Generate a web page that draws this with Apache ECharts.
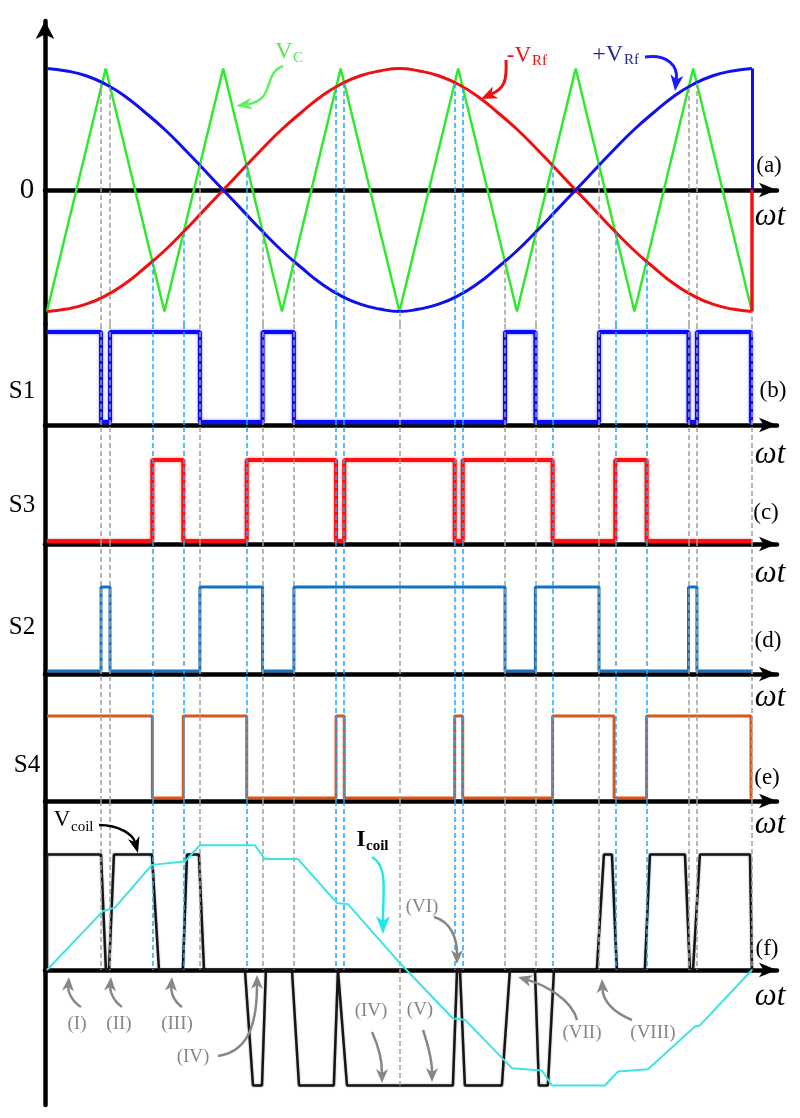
<!DOCTYPE html>
<html>
<head>
<meta charset="utf-8">
<script src="https://cdn.jsdelivr.net/npm/echarts/dist/echarts.min.js"></script>
<style>html,body{margin:0;padding:0;background:#fff;}#chart{width:800px;height:1118px;}</style>
</head>
<body>
<div id="chart"></div>
<script>
// ================= DATA =================
// reference waves, angle in degrees over one period
const refAngle = [0,10,20,30,40,50,60,70,80,90,100,110,120,130,140,150,160,170,180,190,200,210,220,230,240,250,260,270,280,290,300,310,320,330,340,350,360];
const posRef = [1.00,0.98,0.94,0.87,0.77,0.64,0.50,0.34,0.17,0.00,-0.17,-0.34,-0.50,-0.64,-0.77,-0.87,-0.94,-0.98,-1.00,-0.98,-0.94,-0.87,-0.77,-0.64,-0.50,-0.34,-0.17,0.00,0.17,0.34,0.50,0.64,0.77,0.87,0.94,0.98,1.00];
const negRef = [-1.00,-0.98,-0.94,-0.87,-0.77,-0.64,-0.50,-0.34,-0.17,0.00,0.17,0.34,0.50,0.64,0.77,0.87,0.94,0.98,1.00,0.98,0.94,0.87,0.77,0.64,0.50,0.34,0.17,0.00,-0.17,-0.34,-0.50,-0.64,-0.77,-0.87,-0.94,-0.98,-1.00];
// triangular carrier V_C
const carrierX = [0,30,60,90,120,150,180,210,240,270,300,330,360];
const carrierY = [-1,1,-1,1,-1,1,-1,1,-1,1,-1,1,-1];
// switching signals: initial level and edge angles
const s1Start = 1;
const s1Edges = [27.6,32.2,78.1,110.1,126.1,233.9,249.4,281.9,327.6,331.9,359.5];
const s3Start = 0;
const s3Edges = [53.8,69.6,102.0,147.6,151.8,208.2,212.3,258.2,290.2,306.2];
const s2Start = 0;
const s2Edges = [27.6,32.2,78.1,110.1,126.1,233.9,249.4,281.9,327.6,331.9];
const s4Start = 1;
const s4Edges = [53.8,69.6,102.0,147.6,151.8,208.2,212.3,258.2,289.6,306.2,359.5];
// vertical guide lines: angle, start level in (a), end level in (f)
const grayLines  = [27.6,32.2,78.1,110.1,126.1,180,233.9,249.4,281.9,327.6,331.9,360];
const grayTop    = [0.88,0.85,0.21,-0.34,-0.59,-1,-0.59,-0.35,0.21,0.84,0.88,1];
const grayBottom = [0,0,0,0,0,-1,0,0,0,0,0,0];
const blueLines  = [53.8,69.6,102.0,147.6,151.8,208.2,212.3,258.2,290.2,306.2];
const blueTop    = [-0.59,-0.35,0.21,0.84,0.88,0.88,0.84,0.21,-0.35,-0.59];
// coil voltage (normalised) and coil current
const vcoilX = [0,0,27.6,30.1,31.7,34.2,53.6,57.2,69.4,71.5,77.6,80.2,101.1,105.2,109.8,111.8,125.1,128.7,146.5,148.6,149.6,153.2,207.3,209.4,210.9,213.4,232.3,236.4,249.2,251.2,255.8,258.9,280.8,284.4,288.5,291.0,305.3,307.9,325.8,328.3,329.9,333.4,359.0,360];
const vcoilY = [0,1,1,0,0,1,1,0,0,1,1,0,0,-1,-1,0,0,-1,-1,0,0,-1,-1,0,0,-1,-1,0,0,-1,-1,0,0,1,1,0,0,1,1,0,0,1,1,0];
const icoilX = [0,28.6,34.7,53.6,70.5,78.1,106.2,111.3,128.2,148.1,153.7,180.2,207.3,213.4,237.4,252.7,257.9,284.9,291.6,306.9,330.9,333.4,360];
const icoilY = [0,0.51,0.54,0.91,0.94,1.08,1.08,0.96,0.96,0.58,0.57,0.06,-0.42,-0.43,-0.85,-0.87,-1.0,-1.0,-0.88,-0.86,-0.49,-0.48,0];

// ================= LAYOUT =================
const PX_PER_DEG = 705/360;
const GRID_W = 732;
const X_MIN = -1, X_MAX = -1 + GRID_W/PX_PER_DEG;
const panels = [
  {top:21,  height:303, min:-1.103, max:1.391, onZero:true, arrowY:true},
  {top:324, height:101, min:-0.033, max:1.089},
  {top:425, height:119, min:-0.037, max:1.432},
  {top:544, height:130, min:-0.036, max:1.512},
  {top:674, height:127, min:-0.037, max:1.512},
  {top:801, height:304, min:-1.169, max:1.463, onZero:true}
];
const GRAY = '#9e9e9e', LBLUE = '#1ea6ff';
const FONT = 'Liberation Serif';

const zip = (a,b) => a.map((v,i)=>[v,b[i]]);
function stepPts(start, edges){
  let lv = start; const pts = [[0,lv]];
  edges.forEach(e=>{ pts.push([e,lv]); lv = 1-lv; pts.push([e,lv]); });
  pts.push([360,lv]);
  return pts;
}
const dashStyle = c => ({color:c, type:[5,3], width:1.5});
const fullLines = [
  ...grayLines.map(x=>({xAxis:x, lineStyle:dashStyle(GRAY)})),
  ...blueLines.map(x=>({xAxis:x, lineStyle:dashStyle(LBLUE)}))
];
function mlBase(data){ return {silent:true, symbol:['none','none'], label:{show:false}, emphasis:{disabled:true}, animation:false, data}; }
const topLines = [
  ...grayLines.map((x,i)=>[{coord:[x,grayTop[i]], lineStyle:dashStyle(GRAY)},{coord:[x,panels[0].min], lineStyle:dashStyle(GRAY)}]),
  ...blueLines.map((x,i)=>[{coord:[x,blueTop[i]], lineStyle:dashStyle(LBLUE)},{coord:[x,panels[0].min], lineStyle:dashStyle(LBLUE)}])
];
const botLines = [
  ...grayLines.map((x,i)=>[{coord:[x,panels[5].max], lineStyle:dashStyle(GRAY)},{coord:[x,grayBottom[i]], lineStyle:dashStyle(GRAY)}]),
  ...blueLines.map((x)=>[{coord:[x,panels[5].max], lineStyle:dashStyle(LBLUE)},{coord:[x,0], lineStyle:dashStyle(LBLUE)}])
];

const grids = panels.map(p=>({left:45, width:GRID_W, top:p.top, height:p.height, outerBoundsMode:'none'}));
const xAxes = panels.map((p,i)=>({
  gridIndex:i, type:'value', min:X_MIN, max:X_MAX,
  axisLine:{show:true, onZero:!!p.onZero, symbol:['none','arrow'], symbolSize:[11,18], lineStyle:{color:'#000', width:4.5}},
  axisTick:{show:false}, axisLabel:{show:false}, splitLine:{show:false}
}));
const yAxes = panels.map((p,i)=>({
  gridIndex:i, type:'value', min:p.min, max:p.max,
  axisLine:{show:true, onZero:false, symbol: p.arrowY?['none','arrow']:['none','none'], symbolSize:[14,18], lineStyle:{color:'#000', width:4.5}},
  axisTick:{show:false}, axisLabel:{show:false}, splitLine:{show:false}
}));

function line(gi, data, color, width, extra){
  return Object.assign({type:'line', xAxisIndex:gi, yAxisIndex:gi, data, showSymbol:false, symbol:'none', silent:true,
    lineStyle:{color, width}, itemStyle:{color}, animation:false}, extra||{});
}

const series = [
  line(0, zip(carrierX,carrierY), '#30e830', 2.5, {name:'V_C', markLine: mlBase(topLines), z:2}),
  line(0, zip(refAngle,negRef), '#f01010', 3, {name:'-V_Rf', smooth:true, z:3,
    markLine: mlBase([[{coord:[360,-1], lineStyle:{color:'#f01010',type:'solid',width:3.5}},{coord:[360,0], lineStyle:{color:'#f01010',type:'solid',width:3.5}}]])}),
  line(0, zip(refAngle,posRef), '#1010ee', 3, {name:'+V_Rf', smooth:true, z:4,
    markLine: mlBase([[{coord:[360,1], lineStyle:{color:'#1010ee',type:'solid',width:3}},{coord:[360,0], lineStyle:{color:'#1010ee',type:'solid',width:3}}]])}),
  line(1, stepPts(s1Start,s1Edges), '#0a0aff', 4, {name:'S1', markLine: mlBase(fullLines),
    lineStyle:{color:'#0a0aff', width:4, shadowBlur:3, shadowColor:'rgba(80,80,255,0.7)'}}),
  line(2, stepPts(s3Start,s3Edges), '#ff1010', 4, {name:'S3', markLine: mlBase(fullLines),
    lineStyle:{color:'#ff1010', width:4, shadowBlur:3, shadowColor:'rgba(255,90,90,0.7)'}}),
  line(3, stepPts(s2Start,s2Edges), '#1770c0', 3, {name:'S2', markLine: mlBase(fullLines)}),
  line(4, stepPts(s4Start,s4Edges), '#d9561c', 3, {name:'S4', markLine: mlBase(fullLines)}),
  line(5, zip(vcoilX,vcoilY), '#111', 2.5, {name:'V_coil', markLine: mlBase(botLines),
    lineStyle:{color:'#151515', width:2.5, shadowBlur:2, shadowColor:'rgba(0,0,0,0.4)'}}),
  line(5, zip(icoilX,icoilY), '#3fe3df', 2, {name:'I_coil', z:5})
];

// ================= ANNOTATIONS =================
function txt(x,y,s,size,color,o){
  o = o||{};
  return {type:'text', x, y, silent:true, z:100, style:{text:s, fontSize:size, fontFamily:FONT,
    fontStyle:o.italic?'italic':'normal', fontWeight:o.bold?'bold':'normal', fill:color,
    align:o.align||'center', verticalAlign:'middle', textAlign:o.align||'center', textVerticalAlign:'middle'}};
}
function arrow(p0,c1,c2,p1,color,w,L,W){
  const a = Math.atan2(p1[1]-c2[1], p1[0]-c2[0]);
  const ca = Math.cos(a), sa = Math.sin(a);
  const bx = p1[0]-L*ca, by = p1[1]-L*sa;
  const nx = p1[0]-0.72*L*ca, ny = p1[1]-0.72*L*sa;
  return [
    {type:'bezierCurve', silent:true, z:100, shape:{x1:p0[0],y1:p0[1],cpx1:c1[0],cpy1:c1[1],cpx2:c2[0],cpy2:c2[1],x2:nx,y2:ny}, style:{stroke:color, lineWidth:w, fill:'none'}},
    {type:'polygon', silent:true, z:100, shape:{points:[[p1[0],p1[1]],[bx-sa*W/2, by+ca*W/2],[nx,ny],[bx+sa*W/2, by-ca*W/2]]}, style:{fill:color}}
  ];
}
const GR = '#878787';
const graphics = [
  txt(27,190,'0',29,'#000'),
  txt(22,391,'S1',25,'#000'), txt(22,505,'S3',25,'#000'), txt(22,627,'S2',25,'#000'), txt(27,765,'S4',25,'#000'),
  txt(769,166,'(a)',23,'#000'), txt(773,391,'(b)',23,'#000'), txt(766,513,'(c)',23,'#000'),
  txt(768,641,'(d)',23,'#000'), txt(767,778,'(e)',23,'#000'), txt(767,949,'(f)',23,'#000'),
  ...[217,455,574,698,825,997].map(y=>txt(770,y,'ωt',31,'#000',{italic:true})),
  // V_C
  txt(284,52,'V',24,'#55e855'), txt(298,58,'C',15,'#55e855'),
  ...arrow([283,66],[262,74],[276,100],[236,106],'#66ee66',2.5,16,12),
  // -V_Rf
  txt(531,56,'-V',23,'#f01010',{align:'right'}), txt(532,61,'Rf',15,'#f01010',{align:'left'}),
  ...arrow([506,60],[507,80],[505,88],[481,99],'#f01010',3,16,13),
  // +V_Rf
  txt(623,55,'+V',24,'#1f2a8c',{align:'right'}), txt(624,60,'Rf',15,'#1f2a8c',{align:'left'}),
  ...arrow([645,57],[668,54],[678,66],[675,91],'#1a1aff',3,16,13),
  // V_coil
  txt(62,820,'V',23,'#000'), txt(71,827,'coil',15,'#000',{align:'left'}),
  ...arrow([99,825],[120,825],[133,835],[138,853],'#000',2.5,16,12),
  // I_coil
  txt(361,840,'I',23,'#000',{bold:true}), txt(366,846,'coil',15,'#000',{align:'left',bold:true}),
  ...arrow([372,857],[388,866],[383,890],[383,934],'#22e8e8',2.5,18,14),
  // roman numerals
  txt(77,1024,'(I)',19,GR), ...arrow([81,1007],[70,1000],[68,990],[69,977],GR,2.5,14,12),
  txt(119,1024,'(II)',19,GR), ...arrow([122,1007],[112,1000],[110,990],[111,977],GR,2.5,14,12),
  txt(177,1024,'(III)',19,GR), ...arrow([182,1007],[172,1000],[171,990],[172,977],GR,2.5,14,12),
  txt(193,1057,'(IV)',19,GR), ...arrow([218,1056],[245,1052],[257,1030],[257,975],GR,2.5,14,12),
  txt(371,1011,'(IV)',19,GR), ...arrow([372,1032],[378,1045],[382,1060],[382,1083],GR,2.5,14,12),
  txt(420,1010,'(V)',19,GR), ...arrow([423,1030],[428,1045],[432,1060],[432,1082],GR,2.5,14,12),
  txt(422,907,'(VI)',19,GR), ...arrow([434,917],[452,922],[457,940],[457,964],GR,2.5,14,12),
  txt(582,1033,'(VII)',19,GR), ...arrow([577,1020],[572,1000],[545,985],[518,977],GR,2.5,14,12),
  txt(653,1033,'(VIII)',19,GR), ...arrow([632,1020],[612,1012],[603,1000],[602,979],GR,2.5,14,12)
];

const chart = echarts.init(document.getElementById('chart'), null, {renderer:'canvas'});
chart.setOption({
  backgroundColor:'#fff',
  animation:false,
  grid:grids, xAxis:xAxes, yAxis:yAxes,
  series,
  graphic:{elements:graphics}
});
</script>
</body>
</html>
